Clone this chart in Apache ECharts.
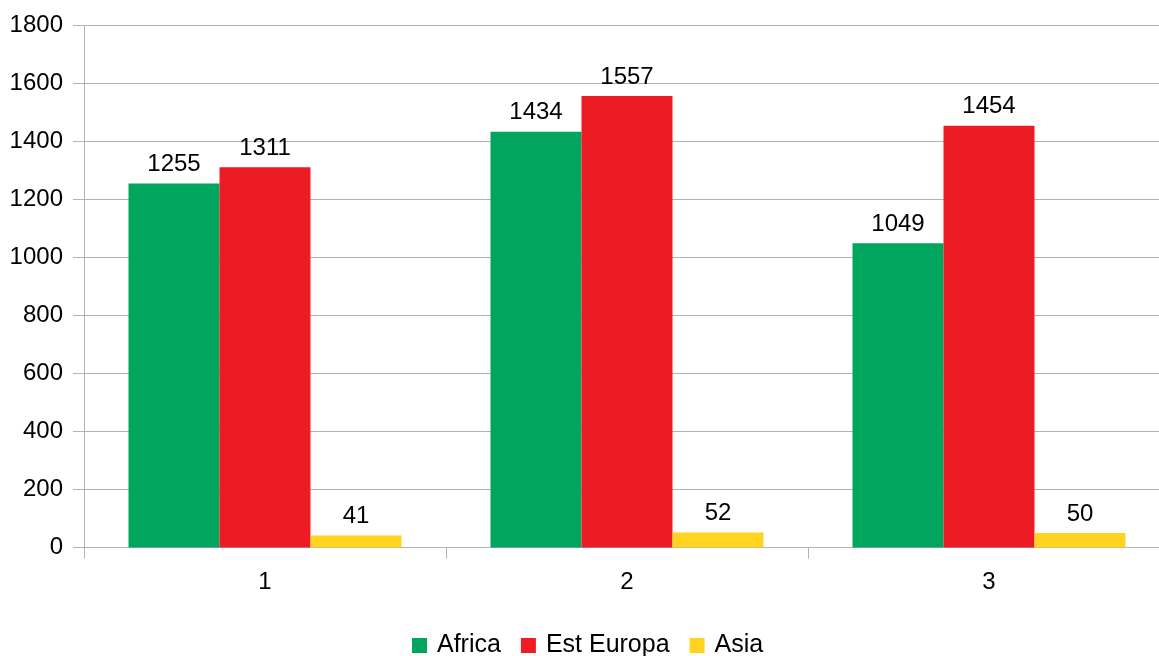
<!DOCTYPE html>
<html>
<head>
<meta charset="utf-8">
<script src="https://cdn.jsdelivr.net/npm/echarts@6/dist/echarts.min.js"></script>
<style>
html,body{margin:0;padding:0;background:#fff;}
#chart{width:1159px;height:656px;}
</style>
</head>
<body>
<div id="chart"></div>
<script>
const categories = ['1', '2', '3'];
const africa = [1255, 1434, 1049];
const estEuropa = [1311, 1557, 1454];
const asia = [41, 52, 50];
const seriesNames = ['Africa', 'Est Europa', 'Asia'];
const colors = ['#00a65d', '#ed1c24', '#ffd320'];

const FONT = 'Liberation Sans, Arial, sans-serif';
const chart = echarts.init(document.getElementById('chart'), null, {renderer: 'canvas'});

function mk(name, data, color) {
  return {
    name: name,
    type: 'bar',
    data: data,
    barWidth: 91,
    barGap: '0%',
    itemStyle: {color: color},
    label: {
      show: true,
      position: 'top',
      distance: 7,
      color: '#000',
      fontFamily: FONT,
      fontSize: 24
    }
  };
}

chart.setOption({
  animation: false,
  backgroundColor: '#fff',
  grid: {left: 84, width: 1086, top: 25.5, height: 522, containLabel: false, outerBoundsMode: 'none'},
  legend: {
    data: seriesNames,
    left: 407,
    top: 628,
    itemWidth: 15,
    itemHeight: 15,
    itemGap: 20,
    icon: 'rect',
    textStyle: {fontFamily: FONT, fontSize: 25, color: '#000', padding: [0, 0, 0, 5]}
  },
  xAxis: {
    type: 'category',
    data: categories,
    axisLine: {show: true, lineStyle: {color: '#b3b3b3', width: 1}},
    axisTick: {show: true, length: 11, lineStyle: {color: '#b3b3b3'}},
    axisLabel: {fontFamily: FONT, fontSize: 24, color: '#000', margin: 23}
  },
  yAxis: {
    type: 'value',
    min: 0,
    max: 1800,
    interval: 200,
    axisLine: {show: true, lineStyle: {color: '#b3b3b3', width: 1}},
    axisTick: {show: true, length: 11, lineStyle: {color: '#b3b3b3'}},
    axisLabel: {fontFamily: FONT, fontSize: 24, color: '#000', margin: 21, formatter: function (v) { return String(v); }},
    splitLine: {show: true, lineStyle: {color: '#b3b3b3', width: 1}}
  },
  series: [
    mk(seriesNames[0], africa, colors[0]),
    mk(seriesNames[1], estEuropa, colors[1]),
    mk(seriesNames[2], asia, colors[2])
  ]
});
</script>
</body>
</html>
